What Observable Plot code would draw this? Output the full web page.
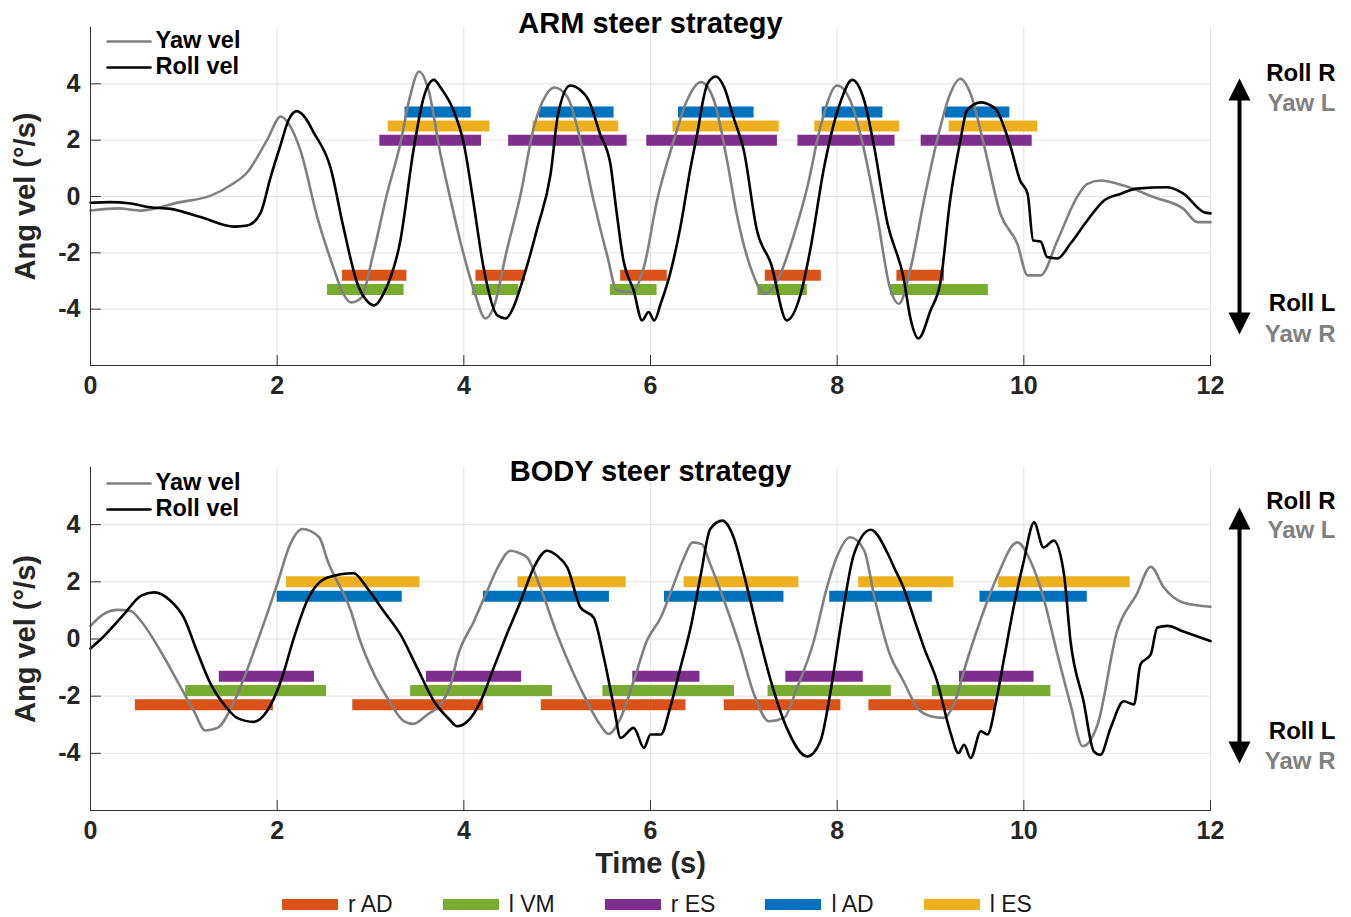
<!DOCTYPE html>
<html>
<head>
<meta charset="utf-8">
<script src="https://cdn.jsdelivr.net/npm/d3@7"></script>
<script src="https://cdn.jsdelivr.net/npm/@observablehq/plot@0.6"></script>
<style>
  html, body { margin: 0; padding: 0; background: #fff; overflow: hidden; }
  #chart { width: 1351px; font-family: "Liberation Sans", Arial, Helvetica, sans-serif; }
  #chart svg { display: block; }
  #legend { height: 37px; display: flex; align-items: center; padding-left: 282px; gap: 50px; box-sizing: border-box; padding-top: 11px; }
  .item { display: flex; align-items: center; font-size: 23px; color: #1a1a1a; }
  .sw { width: 56px; height: 11px; margin-right: 10px; }
</style>
</head>
<body>
<div id="chart"></div>
<script>
// ---------- data ----------
const tTicks = [0, 2, 4, 6, 8, 10, 12];
const vTicks = [-4, -2, 0, 2, 4];

const muscles = ["r AD", "l VM", "r ES", "l AD", "l ES"];
const muscleColors = ["#D95319", "#77AC30", "#7E2F8E", "#0072BD", "#EDB120"];

const armLevels  = [-2.8, -3.3, 2.0, 3.0, 2.5];
const bodyLevels = [-2.3, -1.8, -1.3, 1.5, 2.0];

const armRAD = [[2.7, 3.39], [4.13, 4.66], [5.68, 6.18], [7.23, 7.83], [8.64, 9.15]];
const armLVM = [[2.54, 3.36], [4.09, 4.59], [5.57, 6.07], [7.15, 7.68], [8.57, 9.62]];
const armRES = [[3.1, 4.19], [4.48, 5.75], [5.96, 7.36], [7.58, 8.62], [8.9, 10.09]];
const armLAD = [[3.37, 4.08], [4.81, 5.61], [6.3, 7.11], [7.84, 8.49], [9.16, 9.85]];
const armLES = [[3.19, 4.28], [4.74, 5.66], [6.24, 7.38], [7.76, 8.67], [9.2, 10.15]];

const bodyRAD = [[0.48, 1.96], [2.81, 4.21], [4.83, 6.38], [6.79, 8.04], [8.34, 9.69]];
const bodyLVM = [[1.02, 2.53], [3.43, 4.95], [5.49, 6.9], [7.26, 8.58], [9.02, 10.29]];
const bodyRES = [[1.38, 2.4], [3.6, 4.62], [5.81, 6.53], [7.45, 8.28], [9.31, 10.11]];
const bodyLAD = [[2.0, 3.34], [4.21, 5.56], [6.15, 7.43], [7.92, 9.02], [9.53, 10.68]];
const bodyLES = [[2.1, 3.53], [4.58, 5.74], [6.36, 7.59], [8.23, 9.25], [9.73, 11.14]];

const armYaw = [[0,-0.5],[0.3,-0.42],[0.54,-0.5],[0.96,-0.2],[1.29,0.03],[1.5,0.4],[1.68,0.86],[1.89,1.99],[2.04,2.84],[2.12,2.6],[2.25,1.63],[2.43,-0.74],[2.6,-2.5],[2.7,-3.4],[2.79,-3.76],[2.9,-3.6],[3.03,-2.03],[3.17,0],[3.32,1.88],[3.42,3.5],[3.52,4.44],[3.62,3.8],[3.75,1.5],[3.86,-0.14],[3.96,-1.56],[4.11,-3.34],[4.23,-4.33],[4.32,-3.93],[4.46,-1.92],[4.61,0.1],[4.75,2.46],[4.88,3.6],[4.97,3.87],[5.11,3.53],[5.25,1.99],[5.39,-0.14],[5.54,-2.15],[5.64,-3.34],[5.8,-3.4],[5.93,-2.5],[6.07,-0.14],[6.25,1.99],[6.39,3.4],[6.54,4.06],[6.68,3.41],[6.82,1.28],[6.93,-0.73],[7.07,-2.5],[7.23,-3.46],[7.36,-2.98],[7.54,-1.33],[7.68,0.33],[7.82,2.46],[8.0,3.94],[8.14,3.41],[8.29,1.63],[8.43,-0.73],[8.57,-3.3],[8.66,-3.81],[8.79,-2.5],[8.93,-0.14],[9.07,1.99],[9.21,3.64],[9.32,4.18],[9.43,3.64],[9.57,1.87],[9.75,-0.62],[9.93,-1.68],[10.04,-2.8],[10.18,-2.8],[10.36,-1.56],[10.57,-0.02],[10.68,0.45],[10.82,0.57],[11.07,0.39],[11.39,-0.02],[11.71,-0.44],[11.86,-0.91],[12,-0.91]];

const armRoll = [[0,-0.22],[0.21,-0.2],[0.43,-0.25],[0.64,-0.38],[0.86,-0.44],[1.18,-0.73],[1.54,-1.07],[1.68,-1.03],[1.82,-0.6],[1.93,0.69],[2.04,1.87],[2.12,2.7],[2.21,3.03],[2.3,2.8],[2.39,2.28],[2.57,1.04],[2.71,-1.09],[2.86,-3.1],[2.96,-3.7],[3.04,-3.87],[3.14,-3.45],[3.32,-1.56],[3.46,1.63],[3.57,3.52],[3.68,4.14],[3.75,3.87],[3.89,3.05],[4.0,1.87],[4.1,-0.14],[4.21,-2.5],[4.36,-4.22],[4.45,-4.33],[4.53,-3.94],[4.64,-2.87],[4.79,-1.09],[4.93,0.81],[5.01,2.93],[5.14,3.94],[5.24,3.8],[5.34,3.4],[5.46,2.22],[5.57,1.16],[5.63,-0.38],[5.71,-2.27],[5.82,-3.34],[5.91,-4.4],[5.98,-4.1],[6.04,-4.4],[6.11,-3.8],[6.21,-2.74],[6.32,-1.09],[6.43,1.04],[6.5,2.22],[6.57,3.52],[6.61,4.0],[6.7,4.26],[6.79,3.87],[6.89,2.8],[7.0,1.63],[7.14,-1.2],[7.29,-2.38],[7.46,-4.4],[7.61,-3.45],[7.71,-1.92],[7.86,1.04],[8.04,3.4],[8.16,4.14],[8.29,3.4],[8.39,1.87],[8.54,-0.97],[8.71,-2.87],[8.79,-4.4],[8.87,-5.04],[9.0,-4.05],[9.11,-2.98],[9.21,-0.14],[9.32,1.99],[9.39,3.05],[9.54,3.34],[9.6,3.3],[9.71,3.05],[9.79,2.45],[9.86,1.74],[9.96,0.57],[10.04,0.1],[10.1,-1.56],[10.18,-1.6],[10.25,-2.15],[10.36,-2.2],[10.5,-1.67],[10.68,-0.85],[10.86,-0.14],[11.04,0.1],[11.21,0.28],[11.54,0.33],[11.71,0.1],[11.93,-0.56],[12,-0.6]];

const bodyYaw = [[0,0.46],[0.14,0.87],[0.29,1.02],[0.43,0.98],[0.54,0.63],[0.75,-0.42],[0.93,-1.47],[1.11,-2.53],[1.23,-3.2],[1.36,-3.11],[1.54,-2.18],[1.79,-0.07],[2.0,1.92],[2.14,3.32],[2.27,3.85],[2.45,3.56],[2.54,2.74],[2.79,0.98],[2.89,-0.07],[3.04,-1.24],[3.18,-2.06],[3.36,-2.88],[3.46,-2.97],[3.61,-2.64],[3.75,-2.29],[3.86,-1.6],[3.93,-0.65],[4.11,0.63],[4.25,1.68],[4.38,2.6],[4.5,3.09],[4.6,3.0],[4.68,2.85],[4.82,1.8],[5.0,0.16],[5.18,-1.24],[5.32,-2.18],[5.46,-3.0],[5.55,-3.32],[5.68,-2.76],[5.82,-1.47],[5.96,-0.07],[6.11,0.75],[6.25,1.92],[6.36,2.85],[6.45,3.38],[6.55,3.32],[6.64,2.62],[6.79,1.33],[6.96,-0.3],[7.11,-1.94],[7.27,-2.88],[7.43,-2.76],[7.57,-1.71],[7.75,-0.07],[7.89,1.8],[8.0,2.9],[8.14,3.56],[8.29,3.09],[8.4,1.45],[8.56,-0.5],[8.71,-1.47],[8.86,-2.41],[9.0,-2.7],[9.14,-2.76],[9.25,-2.29],[9.39,-0.77],[9.57,0.98],[9.71,2.15],[9.93,3.38],[10.07,2.74],[10.21,1.45],[10.36,-0.54],[10.5,-2.29],[10.63,-3.75],[10.79,-2.99],[11.0,0.28],[11.21,1.57],[11.36,2.53],[11.5,1.8],[11.71,1.27],[12.0,1.13]];

const bodyRoll = [[0,-0.33],[0.11,-0.01],[0.36,0.87],[0.54,1.51],[0.68,1.63],[0.86,1.33],[1.0,0.75],[1.14,-0.42],[1.29,-1.59],[1.46,-2.41],[1.57,-2.76],[1.75,-2.9],[1.89,-2.53],[2.04,-1.47],[2.18,0.05],[2.32,1.33],[2.54,2.15],[2.82,2.3],[2.96,1.8],[3.14,0.98],[3.32,0.16],[3.5,-1.01],[3.68,-2.18],[3.84,-2.8],[3.93,-3.05],[4.04,-2.88],[4.18,-2.18],[4.32,-1.01],[4.46,0.16],[4.61,1.33],[4.75,2.5],[4.89,3.09],[5.0,2.91],[5.11,2.5],[5.25,1.1],[5.39,0.75],[5.5,-0.65],[5.61,-2.41],[5.68,-3.46],[5.82,-3.11],[5.93,-3.81],[6.0,-3.34],[6.11,-3.34],[6.21,-2.41],[6.32,-1.01],[6.43,0.4],[6.54,2.27],[6.64,3.85],[6.77,4.14],[6.89,3.56],[7.0,2.27],[7.14,0.4],[7.29,-1.47],[7.46,-3.11],[7.68,-4.11],[7.82,-3.58],[7.93,-1.82],[8.04,0.51],[8.18,2.97],[8.36,3.82],[8.54,3.0],[8.61,2.5],[8.71,1.8],[8.82,0.75],[8.93,-0.3],[9.07,-1.47],[9.21,-3.23],[9.3,-3.99],[9.36,-3.7],[9.43,-4.16],[9.54,-3.23],[9.61,-3.34],[9.71,-2.06],[9.79,-0.65],[9.89,1.1],[10.0,2.74],[10.11,4.08],[10.21,3.2],[10.32,3.44],[10.43,2.27],[10.5,-0.07],[10.64,-2.18],[10.75,-3.93],[10.82,-4.05],[10.93,-3.11],[11.07,-2.18],[11.18,-2.29],[11.25,-0.89],[11.36,-0.54],[11.43,0.4],[11.54,0.46],[11.71,0.26],[12.0,-0.07]];

const seriesNames = ["Yaw vel", "Roll vel"];
const seriesColors = ["#808080", "#000000"];
const dirLabels = ["Roll R", "Yaw L", "Roll L", "Yaw R"];
const dirColors = ["#000000", "#808080", "#000000", "#808080"];
const armDirY  = [4.37, 3.30, -3.80, -4.90];
const bodyDirY = [4.81, 3.80, -3.24, -4.29];

// ---------- helpers ----------
const FONT = '"Liberation Sans", Arial, Helvetica, sans-serif';
const lineShape = { draw(ctx, l) { ctx.moveTo(0, 0); ctx.lineTo(0, -l); } };
const arrowShape = {
  draw(ctx, l) {
    const hw = 11, hl = 22, sw = 2;
    ctx.moveTo(0, 0); ctx.lineTo(hw, -hl); ctx.lineTo(sw, -hl);
    ctx.lineTo(sw, -(l - hl)); ctx.lineTo(hw, -(l - hl)); ctx.lineTo(0, -l);
    ctx.lineTo(-hw, -(l - hl)); ctx.lineTo(-sw, -(l - hl)); ctx.lineTo(-sw, -hl);
    ctx.lineTo(-hw, -hl); ctx.closePath();
  }
};

function barRows(sets, levels) {
  return muscles.flatMap((m, i) => sets[i].map(([s, e]) => ({muscle: m, start: s, end: e, level: levels[i]})));
}

function panel(o) {
  const rows = barRows(o.bars, o.levels);
  const pt = (d) => d;
  const dirRows = dirLabels.map((t, i) => ({t, y: o.dirY[i], c: dirColors[i]}));
  const marks = [
    Plot.gridX(tTicks, {stroke: "#e2e2e2", strokeOpacity: 1, strokeWidth: 1}),
    Plot.gridY(vTicks, {stroke: "#e2e2e2", strokeOpacity: 1, strokeWidth: 1}),
    Plot.ruleY(rows, {x1: "start", x2: "end", y: "level", stroke: "muscle", strokeWidth: 11}),
    Plot.line(o.yaw, {x: d => d[0], y: d => d[1], stroke: seriesColors[0], strokeWidth: 2.6, curve: "monotone-x"}),
    Plot.line(o.roll, {x: d => d[0], y: d => d[1], stroke: seriesColors[1], strokeWidth: 2.6, curve: "monotone-x"}),
    Plot.ruleX([0], {stroke: "#333", strokeWidth: 1}),
    Plot.ruleY([-6], {stroke: "#333", strokeWidth: 1}),
    Plot.vector(tTicks, {x: pt, frameAnchor: "bottom", length: 10, anchor: "start", shape: lineShape, stroke: "#333", strokeWidth: 1}),
    Plot.vector(vTicks, {y: pt, frameAnchor: "left", length: 10, rotate: 90, anchor: "start", shape: lineShape, stroke: "#333", strokeWidth: 1}),
    Plot.axisX({ticks: tTicks, tickSize: 0, tickPadding: 11, tickFormat: d => String(d), fontSize: 25, fontWeight: "bold", fill: "#262626", label: null}),
    Plot.axisY({ticks: vTicks, tickSize: 0, tickPadding: 10, tickFormat: d => String(d), fontSize: 25, fontWeight: "bold", fill: "#262626", label: null}),
    // title
    Plot.text([o.title], {text: pt, frameAnchor: "top", textAnchor: "middle", lineAnchor: "bottom", dy: o.titleDy, fontSize: 29, fontWeight: "bold", fill: "#000"}),
    // y label
    Plot.text(["Ang vel (°/s)"], {text: pt, frameAnchor: "left", textAnchor: "middle", rotate: -90, dx: -65, lineAnchor: "middle", fontSize: 29, fontWeight: "bold", fill: "#262626"}),
    // inner legend
    Plot.vector([0], {frameAnchor: "top-left", dx: 17, dy: o.legDy, length: 43, rotate: 90, anchor: "start", shape: lineShape, stroke: seriesColors[0], strokeWidth: 2.6}),
    Plot.vector([0], {frameAnchor: "top-left", dx: 17, dy: o.legDy + 26, length: 43, rotate: 90, anchor: "start", shape: lineShape, stroke: seriesColors[1], strokeWidth: 2.6}),
    Plot.text([seriesNames[0]], {text: pt, frameAnchor: "top-left", dx: 65, dy: o.legDy - 1, textAnchor: "start", lineAnchor: "middle", fontSize: 23.5, fontWeight: "bold", fill: "#000"}),
    Plot.text([seriesNames[1]], {text: pt, frameAnchor: "top-left", dx: 65, dy: o.legDy + 25, textAnchor: "start", lineAnchor: "middle", fontSize: 23.5, fontWeight: "bold", fill: "#000"}),
    // direction annotations
    Plot.vector([0], {frameAnchor: "top-right", dx: 29, dy: o.arrowBottom, length: 256, anchor: "start", shape: arrowShape, fill: "#000", stroke: "none"}),
    Plot.text(dirRows.filter(d => d.c === "#000000"),
      {text: "t", y: "y", frameAnchor: "right", dx: 125, textAnchor: "end", lineAnchor: "middle", fontSize: 24, fontWeight: "bold", fill: "#000"}),
    Plot.text(dirRows.filter(d => d.c !== "#000000"),
      {text: "t", y: "y", frameAnchor: "right", dx: 125, textAnchor: "end", lineAnchor: "middle", fontSize: 24, fontWeight: "bold", fill: "#808080"})
  ];
  if (o.xlabel) {
    marks.push(Plot.text([o.xlabel], {text: pt, frameAnchor: "bottom", textAnchor: "middle", lineAnchor: "bottom", dy: 62, fontSize: 29, fontWeight: "bold", fill: "#262626"}));
  }
  return Plot.plot({
    width: 1351,
    height: o.height,
    marginLeft: 90,
    marginRight: 141,
    marginTop: o.marginTop,
    marginBottom: o.marginBottom,
    style: `font-family: ${FONT}; background: #fff; overflow: visible;`,
    x: {domain: [0, 12]},
    y: {domain: [-6, 6]},
    color: {domain: muscles, range: muscleColors},
    marks
  });
}

const chart = document.getElementById("chart");
chart.append(panel({
  title: "ARM steer strategy", titleDy: 5,
  height: 420, marginTop: 27, marginBottom: 55,
  yaw: armYaw, roll: armRoll,
  bars: [armRAD, armLVM, armRES, armLAD, armLES], levels: armLevels,
  legDy: 14, arrowBottom: 307, dirY: armDirY
}));
chart.append(panel({
  title: "BODY steer strategy", titleDy: 13,
  height: 460, marginTop: 47, marginBottom: 70,
  yaw: bodyYaw, roll: bodyRoll,
  bars: [bodyRAD, bodyLVM, bodyRES, bodyLAD, bodyLES], levels: bodyLevels,
  legDy: 16, arrowBottom: 296, dirY: bodyDirY, xlabel: "Time (s)"
}));

// legend
const legend = document.createElement("div");
legend.id = "legend";
muscles.forEach((m, i) => {
  const it = document.createElement("div");
  it.className = "item";
  const sw = document.createElement("div");
  sw.className = "sw";
  sw.style.background = muscleColors[i];
  const lb = document.createElement("span");
  lb.textContent = m;
  it.append(sw, lb);
  legend.append(it);
});
chart.append(legend);
</script>
</body>
</html>
